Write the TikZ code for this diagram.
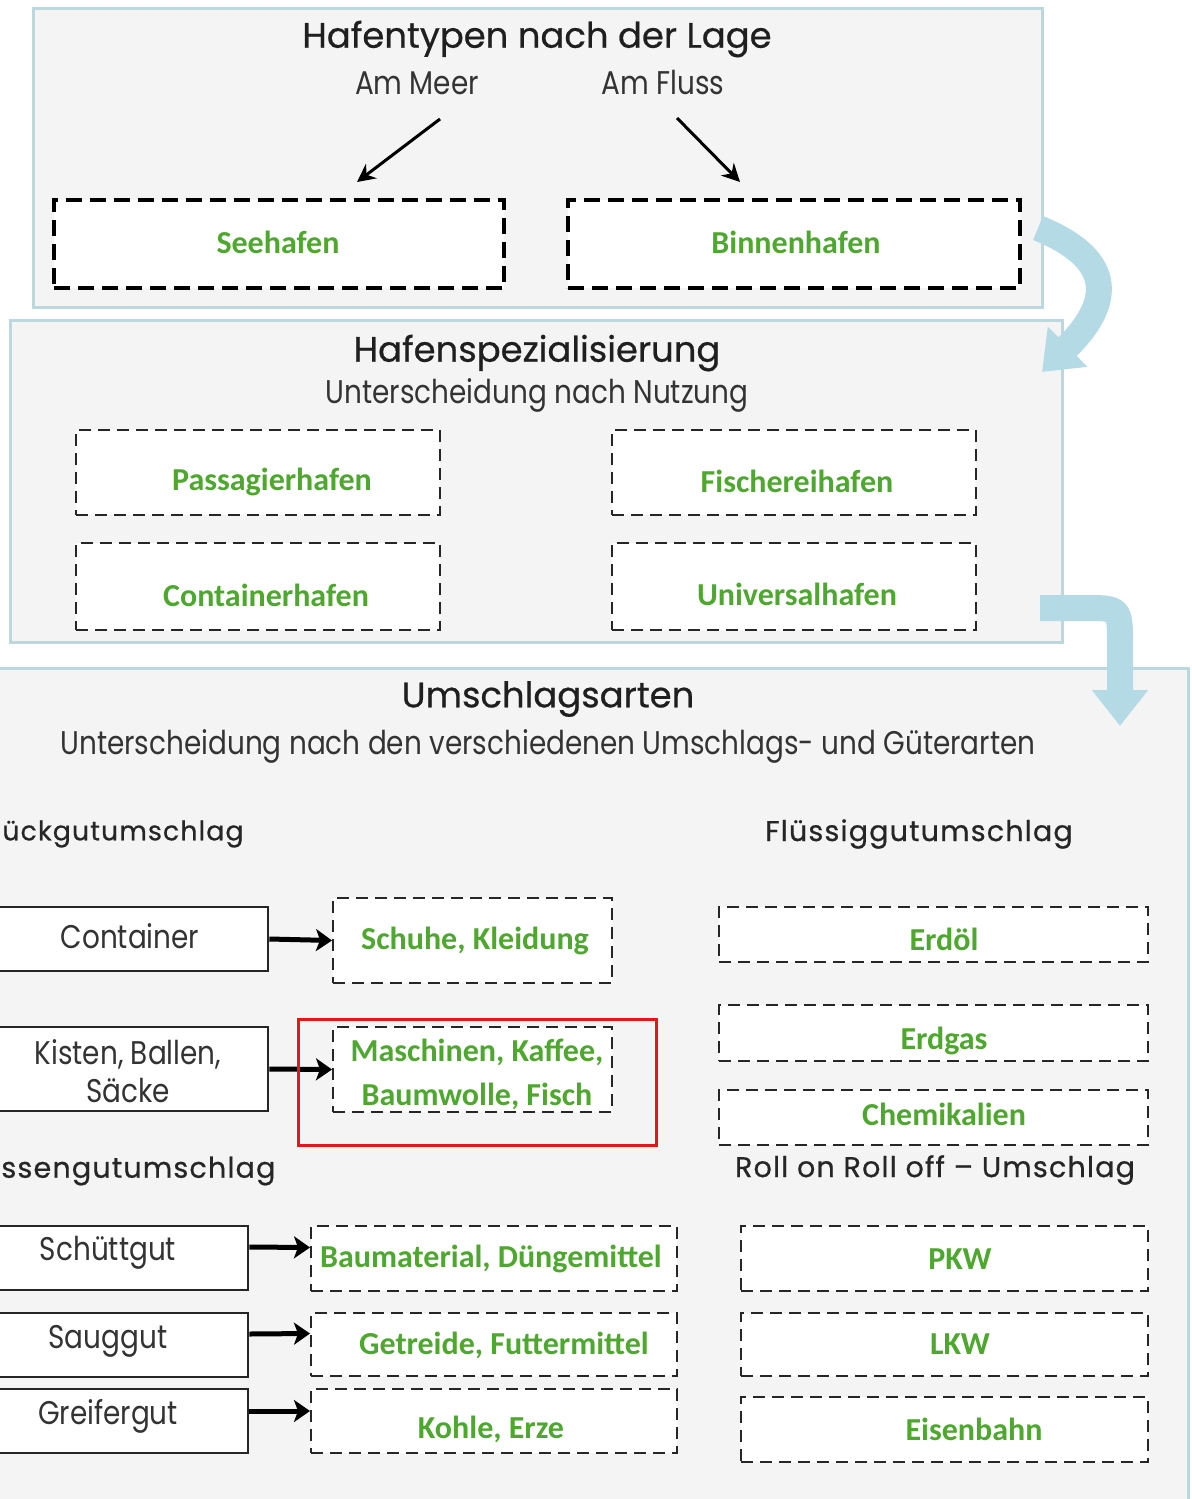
\documentclass[tikz,border=0pt]{standalone}
\usepackage{fontspec}
\setmainfont{Poppins}
\newfontfamily\grnfont{Carlito}
\newfontfamily\titlefont{Poppins}[FakeBold=0.6]
\newfontfamily\bodyfont{Poppins}[FakeStretch=0.85]
\newfontfamily\widefont{Poppins}[LetterSpace=4,FakeBold=0.6]
\usetikzlibrary{arrows.meta,fit}
\definecolor{panelfill}{HTML}{F4F4F4}
\definecolor{panelline}{HTML}{BCD8DF}
\definecolor{flow}{HTML}{B4DAE5}
\definecolor{grntxt}{HTML}{4EA72E}
\definecolor{hlred}{HTML}{E8141B}
\begin{document}
\begin{tikzpicture}[x=0.5pt,y=-0.5pt,
  panel/.style={draw=panelline,fill=panelfill,line width=1.5pt,inner sep=0pt},
  bigdash/.style={draw=black,fill=white,line width=2pt,dash pattern=on 8pt off 4pt,inner sep=0pt},
  dbox/.style={draw=black!85,fill=white,line width=1pt,dash pattern=on 6pt off 3.5pt,inner sep=0pt},
  sbox/.style={draw=black!85,fill=white,line width=1.3pt,inner sep=0pt},
  hlbox/.style={draw=hlred,line width=1.5pt,inner sep=0pt},
  title/.style={font=\titlefont\fontsize{17.7}{20}\selectfont,text=black!88},
  sub/.style={font=\bodyfont\fontsize{16.4}{18}\selectfont,text=black!80},
  head/.style={font=\widefont\fontsize{14.3}{16}\selectfont,text=black!85},
  lbl/.style={font=\bodyfont\fontsize{16.4}{19}\selectfont,text=black!80,align=center},
  gtxt/.style={font=\grnfont\bfseries\fontsize{16}{22}\selectfont,text=grntxt,align=center},
  thinarrow/.style={line width=1.5pt,-{Stealth[length=9pt,width=9pt,inset=3pt]}},
  fatarrow/.style={line width=2.5pt,-{Stealth[length=8pt,width=11pt,inset=2pt]}},
  flowarrow/.style={draw=flow,line width=13pt,-{Triangle[length=18pt,width=27pt]}}
]
\useasboundingbox (0,0) rectangle (1191,1499);
\clip (0,0) rectangle (1191,1499);
\fill[white] (0,0) rectangle (1191,1499);

% ---------- panel 1
\node[panel,fit={(33,8) (1042,307)}] (p1) {};
\node[title] (t1) at (537,39) {Hafentypen nach der Lage};
\node[sub] (meer) at (417,83) {Am Meer};
\node[sub] (fluss) at (663,83) {Am Fluss};
\node[bigdash,fit={(54,200) (504,288)}] (see) {};
\node[bigdash,fit={(568,200) (1020,288)}] (binnen) {};
\node[gtxt] (tsee) at (278,242) {Seehafen};
\node[gtxt] (tbinnen) at (796,242) {Binnenhafen};
\coordinate (a1s) at (440,119);
\coordinate (a1e) at (357,182);
\coordinate (a2s) at (677,118);
\coordinate (a2e) at (740,182);
\draw[thinarrow] (a1s) -- (a1e);
\draw[thinarrow] (a2s) -- (a2e);

% ---------- panel 2
\node[panel,fit={(10,320) (1062,642)}] (p2) {};
\node[title] (t2) at (537,353) {Hafenspezialisierung};
\node[sub] (s2) at (537,395) {Unterscheidung nach Nutzung};
\node[dbox,fit={(76,430) (440,515)}] (pass) {};
\node[dbox,fit={(612,430) (976,515)}] (fisch) {};
\node[dbox,fit={(76,543) (440,630)}] (cont) {};
\node[dbox,fit={(612,543) (976,630)}] (univ) {};
\node[gtxt] (tpass) at (272,482) {Passagierhafen};
\node[gtxt] (tfisch) at (797,481) {Fischereihafen};
\node[gtxt] (tcont) at (266,595) {Containerhafen};
\node[gtxt] (tuniv) at (797,594) {Universalhafen};

% ---------- panel 3
\node[panel,fit={(-10,668) (1188,1520)}] (p3) {};
\node[title] (t3) at (548,699) {Umschlagsarten};
\node[sub] (s3) at (548,746) {Unterscheidung nach den verschiedenen Umschlags- und Güterarten};
\node[head,font=\widefont\fontsize{13.4}{16}\selectfont,anchor=west,inner sep=0pt] (stueck) at (2,834) {ückgutumschlag};
\node[head] (fluessig) at (919,834) {Flüssiggutumschlag};
\node[head,anchor=west,inner sep=0pt] (massen) at (1,1171) {ssengutumschlag};
\node[head] (roro) at (935,1170) {Roll on Roll off – Umschlag};

% left column
\node[sbox,fit={(-10,907) (268,971)}] (bcontainer) {};
\node[lbl] (tcontainer) at (130,936) {Container};
\node[dbox,fit={(333,898) (612,983)}] (schuhe) {};
\node[gtxt] (tschuhe) at (475,941) {Schuhe, Kleidung};
\draw[fatarrow] (bcontainer.east) -- (schuhe.west);

\node[sbox,fit={(-10,1027) (268,1111)}] (kisten) {};
\node[lbl] (tkisten) at (128,1071) {Kisten, Ballen,\\Säcke};
\node[dbox,fit={(333,1027) (612,1112)}] (masch) {};
\node[gtxt] (tmasch) at (477,1074) {Maschinen, Kaffee,\\Baumwolle, Fisch};
\draw[fatarrow] (kisten.east) -- (masch.west);
\node[hlbox,fit={(298,1019) (656,1145)}] (hl) {};

\node[sbox,fit={(-10,1226) (248,1290)}] (schutt) {};
\node[lbl] (tschutt) at (108,1253) {Schüttgut};
\node[dbox,fit={(311,1226) (677,1291)}] (bau) {};
\node[gtxt] (tbau) at (491,1259) {Baumaterial, Düngemittel};
\draw[fatarrow] ([yshift=5.5pt]schutt.east) -- ([yshift=5.5pt]bau.west);

\node[sbox,fit={(-10,1313) (248,1377)}] (saug) {};
\node[lbl] (tsaug) at (108,1341) {Sauggut};
\node[dbox,fit={(311,1313) (677,1376)}] (getr) {};
\node[gtxt] (tgetr) at (504,1345) {Getreide, Futtermittel};
\draw[fatarrow] ([yshift=5.5pt]saug.east) -- ([yshift=5.5pt]getr.west);

\node[sbox,fit={(-10,1389) (248,1453)}] (greif) {};
\node[lbl] (tgreif) at (108,1416) {Greifergut};
\node[dbox,fit={(311,1389) (677,1453)}] (kohle) {};
\node[gtxt] (tkohle) at (491,1429) {Kohle, Erze};
\draw[fatarrow] ([yshift=5pt]greif.east) -- ([yshift=5pt]kohle.west);

% right column
\node[dbox,fit={(719,907) (1148,962)}] (erdoel) {};
\node[gtxt] (terdoel) at (944,939) {Erdöl};
\node[dbox,fit={(719,1005) (1148,1061)}] (erdgas) {};
\node[gtxt] (terdgas) at (944,1041) {Erdgas};
\node[dbox,fit={(719,1090) (1148,1145)}] (chem) {};
\node[gtxt] (tchem) at (944,1114) {Chemikalien};
\node[dbox,fit={(741,1226) (1148,1291)}] (pkw) {};
\node[gtxt] (tpkw) at (960,1259) {PKW};
\node[dbox,fit={(741,1313) (1148,1376)}] (lkw) {};
\node[gtxt] (tlkw) at (960,1344) {LKW};
\node[dbox,fit={(741,1397) (1148,1462)}] (bahn) {};
\node[gtxt] (tbahn) at (974,1429) {Eisenbahn};

% ---------- flow arrows between panels
\coordinate (f1s) at (1038,228);
\coordinate (f1e) at (1042,372);
\draw[flowarrow] (f1s) .. controls (1112,258) and (1115,300) .. (f1e);
\coordinate (f2s) at (1040,608);
\coordinate (f2e) at (1120,726);
\draw[flowarrow] (f2s) -- (1085,608) .. controls (1120,608) .. (1120,645) -- (f2e);
\end{tikzpicture}
\end{document}
